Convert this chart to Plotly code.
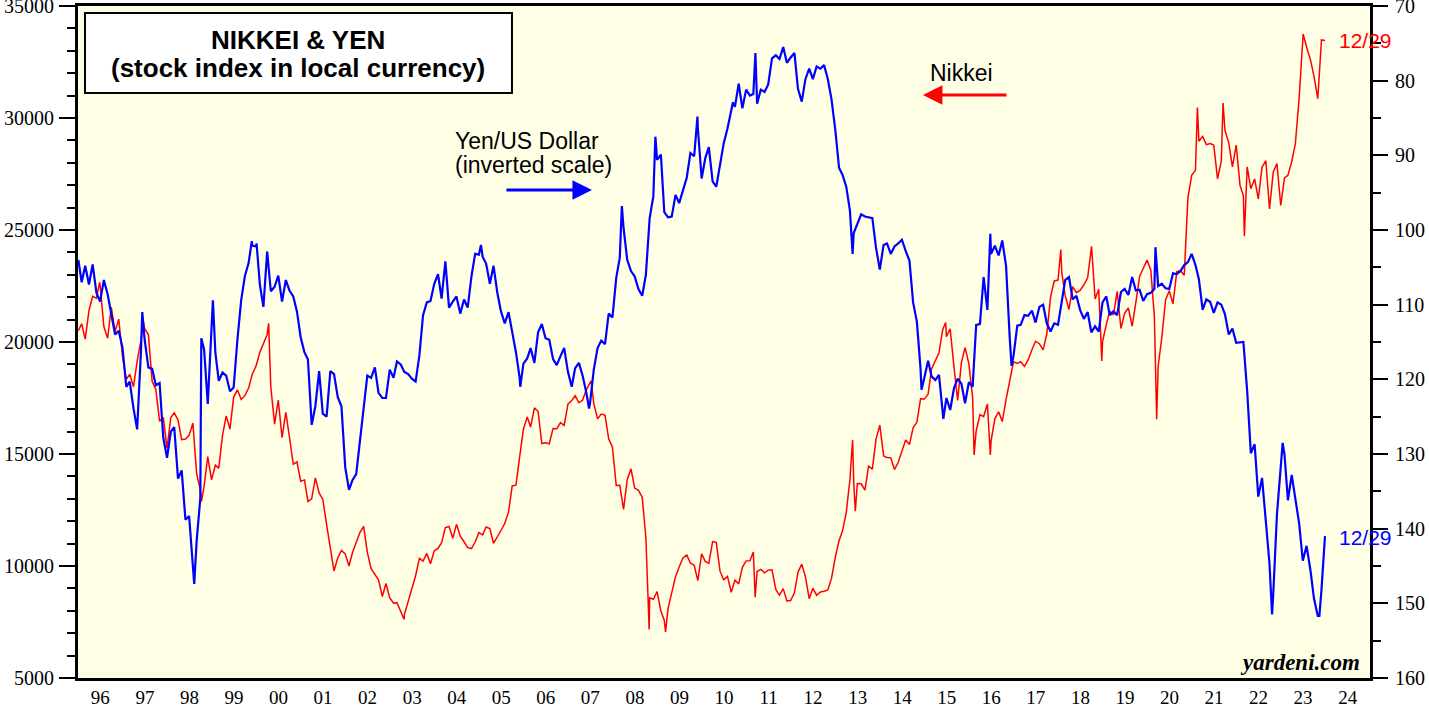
import pandas as pd
import plotly.graph_objects as go

# ---------------- DATA ----------------
years = list(range(1996, 2024))

# Nikkei 225, month-end levels (Jan..Dec for each year 1996-2023)
nikkei_month_end = [
    20813, 20125, 21407, 22041, 21956, 22531, 20693, 20167, 21556, 20467, 21020, 19361,  # 1996
    18330, 18557, 18003, 19151, 20069, 20605, 20331, 18229, 17888, 16459, 16637, 15259,  # 1997
    16628, 16832, 16527, 15641, 15671, 15830, 16379, 14108, 13406, 13565, 14884, 13842,  # 1998
    14500, 14368, 15837, 16702, 16112, 17530, 17862, 17437, 17605, 17942, 18558, 18934,  # 1999
    19540, 19960, 20337, 17974, 16332, 17411, 15727, 16861, 15747, 14540, 14649, 13786,  # 2000
    13843, 12884, 12999, 13934, 13262, 12969, 11861, 10714, 9775, 10367, 10697, 10543,   # 2001
    9997, 10588, 11025, 11493, 11764, 10622, 9878, 9619, 9383, 8640, 9216, 8579,         # 2002
    8340, 8363, 7973, 7831, 8425, 9083, 9563, 10344, 10219, 10560, 10101, 10677,         # 2003
    10784, 11042, 11715, 11762, 11236, 11859, 11326, 11082, 10824, 10771, 11069, 11489,  # 2004
    11388, 11741, 11669, 11009, 11277, 11584, 11900, 12414, 13574, 13607, 14872, 16111,  # 2005
    16650, 16205, 17060, 16906, 15467, 15505, 15457, 16141, 16128, 16399, 16274, 17226,  # 2006
    17383, 17604, 17288, 17400, 17876, 18138, 17249, 16569, 16786, 16737, 15681, 15308,  # 2007
    13592, 13603, 12526, 13850, 14339, 13481, 13377, 13073, 11260, 8577, 8512, 8860,     # 2008
    7994, 7568, 8110, 8828, 9523, 9958, 10357, 10493, 10133, 10035, 9346, 10546,         # 2009
    10198, 10126, 11090, 11057, 9769, 9383, 9537, 8824, 9369, 9202, 9937, 10229,         # 2010
    10238, 10624, 9755, 9850, 9694, 9816, 9833, 8955, 8700, 8988, 8435, 8455,            # 2011
    8803, 9723, 10084, 9521, 8543, 9007, 8695, 8840, 8870, 8928, 9446, 10395,            # 2012
    11139, 11559, 12398, 13861, 13775, 13677, 13668, 13389, 14456, 14328, 15662, 16291,  # 2013
    14915, 14841, 14828, 14304, 14632, 15162, 15621, 15425, 16174, 16414, 17460, 17451,  # 2014
    17674, 18798, 19207, 19520, 20563, 20236, 20585, 18890, 17388, 19083, 19747, 19034,  # 2015
    17518, 16027, 16759, 16666, 17235, 15576, 16569, 16887, 16450, 17425, 18308, 19114,  # 2016
    19041, 19119, 18909, 19197, 19651, 20033, 19925, 19646, 20356, 22012, 22725, 22765,  # 2017
    23098, 22068, 21454, 22468, 22202, 22305, 22554, 22865, 24120, 21920, 22351, 20015,  # 2018
    20773, 21385, 21206, 22259, 20601, 21276, 21522, 20704, 21756, 22927, 23294, 23657,  # 2019
    23205, 21143, 18917, 20194, 21878, 22288, 21710, 23140, 23185, 22977, 26434, 27444,  # 2020
    27663, 28966, 29179, 28813, 28860, 28792, 27284, 28090, 29453, 28893, 27822, 28792,  # 2021
    27002, 26527, 27821, 26848, 27280, 26393, 27802, 28092, 25937, 27587, 27969, 26095,  # 2022
    27327, 27446, 28041, 28856, 30888, 33189, 33172, 32619, 31858, 30859, 33487, 33464,  # 2023
]

# Nikkei intra-month turning points visible on the chart
nikkei_extra_dates = ["1996-01-04", "1996-06-26", "1997-06-20", "1998-10-09", "2000-04-12",
                      "2003-04-28", "2007-07-09", "2008-10-27", "2009-03-10", "2011-03-15",
                      "2013-05-22", "2013-06-13", "2015-06-24", "2016-02-12", "2016-06-24",
                      "2018-01-23", "2018-10-02", "2018-12-25", "2020-03-19", "2021-02-16",
                      "2021-09-14", "2022-03-08", "2023-07-03", "2023-12-29"]
nikkei_extra_values = [20500, 22666, 20910, 12880, 20833,
                       7608, 18262, 7163, 7055, 8605,
                       15627, 12445, 20868, 14953, 14952,
                       24124, 24270, 19155, 16553, 30468,
                       30670, 24718, 33753, 33464]

# Yen per US dollar, month-end levels (Jan..Dec for each year 1996-2023)
yen_month_end = [
    107.0, 104.8, 107.3, 104.6, 108.4, 109.6, 106.7, 108.6, 111.4, 114.0, 113.5, 115.8,  # 1996
    121.0, 120.3, 123.9, 126.7, 116.3, 114.6, 118.4, 118.6, 120.8, 120.5, 127.8, 130.5,  # 1997
    127.0, 126.4, 133.3, 132.2, 138.8, 138.3, 144.7, 141.6, 135.9, 116.0, 123.3, 113.1,  # 1998
    116.4, 120.2, 119.1, 119.5, 121.6, 121.1, 114.7, 109.4, 106.2, 104.4, 102.1, 102.2,  # 1999
    107.3, 110.3, 102.9, 108.2, 107.6, 106.1, 109.6, 106.7, 108.1, 108.9, 110.9, 114.4,  # 2000
    116.4, 117.3, 126.1, 123.6, 118.9, 124.6, 125.0, 118.9, 119.3, 122.4, 123.6, 131.8,  # 2001
    134.7, 133.5, 132.7, 128.5, 124.0, 119.5, 119.8, 118.4, 121.8, 122.5, 122.5, 118.7,  # 2002
    119.8, 117.6, 118.0, 119.0, 119.3, 119.9, 120.3, 116.8, 111.4, 109.7, 109.5, 107.2,  # 2003
    105.9, 109.2, 104.2, 110.4, 109.6, 108.9, 111.2, 109.3, 110.4, 106.2, 103.2, 103.3,  # 2004
    103.6, 104.5, 107.2, 104.8, 108.4, 110.9, 112.5, 111.0, 113.5, 116.4, 119.8, 117.9,  # 2005
    117.2, 115.8, 117.8, 113.7, 112.6, 114.5, 114.7, 117.3, 118.1, 116.9, 115.8, 119.0,  # 2006
    121.0, 118.5, 117.8, 119.5, 121.8, 123.2, 118.7, 115.8, 114.8, 115.3, 111.2, 111.7,  # 2007
    106.4, 103.7, 99.7, 104.0, 105.5, 106.2, 107.9, 108.8, 106.0, 98.4, 95.5, 90.6,      # 2008
    89.9, 97.6, 98.3, 98.2, 95.3, 96.4, 94.7, 93.0, 89.7, 90.1, 86.3, 93.1,              # 2009
    90.3, 88.9, 93.5, 94.2, 91.3, 88.4, 86.4, 84.2, 83.5, 80.4, 83.7, 81.2,              # 2010
    82.0, 81.8, 83.1, 81.2, 81.5, 80.5, 77.0, 76.6, 77.1, 78.1, 77.6, 76.9,              # 2011
    76.3, 81.1, 82.8, 79.8, 78.4, 79.8, 78.1, 78.4, 77.9, 79.8, 82.5, 86.6,              # 2012
    91.7, 92.6, 94.2, 97.4, 100.4, 99.1, 97.9, 98.2, 98.3, 98.4, 102.4, 105.3,           # 2013
    102.0, 101.8, 103.2, 102.2, 101.8, 101.3, 102.8, 104.1, 109.7, 112.3, 118.6, 119.8,  # 2014
    117.5, 119.6, 120.1, 119.4, 124.1, 122.5, 124.1, 121.2, 119.9, 120.6, 123.2, 120.4,  # 2015
    121.0, 112.7, 112.6, 106.3, 110.7, 103.2, 102.1, 103.4, 101.4, 104.8, 114.4, 116.9,  # 2016
    112.8, 112.7, 111.4, 111.5, 110.8, 112.4, 110.3, 110.0, 112.5, 113.6, 112.5, 112.7,  # 2017
    109.2, 106.7, 106.3, 109.3, 108.8, 110.7, 111.9, 111.0, 113.7, 112.9, 113.6, 109.7,  # 2018
    108.9, 111.4, 110.9, 111.4, 108.3, 107.9, 108.7, 106.3, 108.1, 108.0, 109.5, 108.6,  # 2019
    108.4, 107.9, 107.5, 107.2, 107.8, 107.9, 105.8, 105.9, 105.5, 104.7, 104.3, 103.2,  # 2020
    104.7, 106.6, 110.7, 109.3, 109.6, 111.1, 109.7, 110.0, 111.3, 114.0, 113.2, 115.1,  # 2021
    115.1, 115.0, 121.6, 129.9, 128.7, 135.7, 133.2, 138.9, 144.7, 148.7, 138.1, 131.1,  # 2022
    130.1, 136.2, 132.8, 136.3, 139.3, 144.3, 142.3, 145.5, 149.4, 151.7, 148.2, 141.0,  # 2023
]

# Yen intra-month turning points visible on the chart
yen_extra_dates = ["1996-01-04", "1997-06-11", "1998-08-11", "1998-10-08", "1999-01-11",
                   "1999-11-26", "2000-01-04", "2002-01-31", "2005-01-17", "2005-12-05",
                   "2007-06-22", "2008-03-17", "2008-12-17", "2009-11-27", "2010-09-14",
                   "2011-03-17", "2011-10-31", "2013-05-22", "2014-12-08", "2015-06-05",
                   "2016-06-24", "2016-12-15", "2020-03-09", "2022-10-21", "2023-01-16",
                   "2023-11-13", "2023-12-29"]
yen_extra_values = [104.0, 111.0, 147.4, 114.5, 109.4,
                    101.5, 101.8, 134.8, 102.0, 121.0,
                    123.9, 96.8, 87.5, 84.8, 82.9,
                    76.3, 75.5, 103.2, 121.4, 125.3,
                    100.5, 118.2, 102.3, 151.5, 128.5,
                    151.7, 141.0]

axis_left_ticks = [5000, 10000, 15000, 20000, 25000, 30000, 35000]
axis_left_labels = ["5000", "10000", "15000", "20000", "25000", "30000", "35000"]
axis_right_ticks = [70, 80, 90, 100, 110, 120, 130, 140, 150, 160]
axis_right_labels = [str(v) for v in axis_right_ticks]

# ---------------- BUILD SERIES ----------------
month_dates = [pd.Timestamp(y, m, 1) + pd.offsets.MonthEnd(0) for y in years for m in range(1, 13)]


def build(values, extra_dates, extra_values):
    df = pd.DataFrame({"d": month_dates, "v": values})
    ex = pd.DataFrame({"d": pd.to_datetime(extra_dates), "v": extra_values})
    df = pd.concat([df, ex]).drop_duplicates("d", keep="last").sort_values("d")
    df = df[df["d"] <= pd.Timestamp("2023-12-29")]
    return df


nk = build(nikkei_month_end, nikkei_extra_dates, nikkei_extra_values)
yn = build(yen_month_end, yen_extra_dates, yen_extra_values)

fig = go.Figure()
fig.add_trace(go.Scatter(x=nk["d"], y=nk["v"], mode="lines", name="Nikkei",
                         line=dict(color="#FF0000", width=1.5), yaxis="y"))
fig.add_trace(go.Scatter(x=yn["d"], y=yn["v"], mode="lines", name="Yen",
                         line=dict(color="#0000FF", width=2.2), yaxis="y2"))

serif = "Liberation Serif, Times New Roman, serif"
sans = "Liberation Sans, Arial, sans-serif"

fig.update_layout(
    width=1429, height=708,
    margin=dict(l=78, r=59, t=6, b=30, autoexpand=False),
    paper_bgcolor="white",
    plot_bgcolor="#FFFFE6",
    showlegend=False,
    font=dict(family=serif, size=20, color="black"),
    xaxis=dict(
        type="date",
        range=["1996-01-01", "2025-01-01"],
        dtick="M12", tick0="1996-01-01",
        tickformat="%y", ticklabelmode="period",
        ticks="", showgrid=False, zeroline=False, automargin=False,
        showline=True, linecolor="black", linewidth=3, mirror=True,
        ticklabelstandoff=0,
        tickfont=dict(family=serif, size=19, color="black"),
        minor=dict(dtick="M12", tick0="1996-01-01", ticks="outside",
                   ticklen=19, tickwidth=3, tickcolor="black", showgrid=False),
    ),
    yaxis=dict(
        range=[4999.5, 35000.5], tickvals=axis_left_ticks, ticktext=axis_left_labels,
        ticks="outside", ticklen=16, tickwidth=2, tickcolor="black",
        showgrid=False, zeroline=False, automargin=False,
        showline=True, linecolor="black", linewidth=3, mirror=True,
        ticklabelstandoff=1, ticklabeloverflow="allow",
        tickfont=dict(family=serif, size=20, color="black"),
        minor=dict(dtick=1000, tick0=5000, ticks="outside", ticklen=8,
                   tickwidth=2, tickcolor="black", showgrid=False),
    ),
    yaxis2=dict(
        overlaying="y", side="right",
        range=[160.002, 69.998], tickvals=axis_right_ticks, ticktext=axis_right_labels,
        ticks="outside", ticklen=15, tickwidth=2, tickcolor="black",
        showgrid=False, zeroline=False, automargin=False,
        showline=True, linecolor="black", linewidth=3,
        ticklabelstandoff=3, ticklabeloverflow="allow",
        tickfont=dict(family=serif, size=20, color="black"),
        minor=dict(dtick=5, tick0=70, ticks="outside", ticklen=8,
                   tickwidth=2, tickcolor="black", showgrid=False),
    ),
)

# title box
fig.add_shape(type="rect", xref="paper", yref="paper",
              x0=0.0054, x1=0.3359, y0=0.8705, y1=0.9896,
              fillcolor="white", line=dict(color="black", width=2), layer="above")

ann = []
ann.append(dict(text="<b>NIKKEI &amp; YEN</b>", x=0.1703, y=0.9494, xanchor="center", yanchor="middle",
                font=dict(family=sans, size=26, color="black")))
ann.append(dict(text="<b>(stock index in local currency)</b>", x=0.1703, y=0.9077,
                xanchor="center", yanchor="middle", font=dict(family=sans, size=26, color="black")))
ann.append(dict(text="Yen/US Dollar", x=0.2902, y=0.7991, xanchor="left", yanchor="middle",
                font=dict(family=sans, size=23, color="black")))
ann.append(dict(text="(inverted scale)", x=0.2902, y=0.7634, xanchor="left", yanchor="middle",
                font=dict(family=sans, size=23, color="black")))
ann.append(dict(text="Nikkei", x=0.6579, y=0.9003, xanchor="left", yanchor="middle",
                font=dict(family=sans, size=23, color="black")))
ann.append(dict(text="12/29", x=0.9745, y=0.9494, xanchor="left", yanchor="middle",
                font=dict(family=sans, size=21, color="#FF0000")))
ann.append(dict(text="12/29", x=0.9745, y=0.2098, xanchor="left", yanchor="middle",
                font=dict(family=sans, size=21, color="#0000FF")))
ann.append(dict(text="<b><i>yardeni.com</i></b>", x=0.9938, y=0.0238, xanchor="right", yanchor="middle",
                font=dict(family=serif, size=23, color="black")))
for a in ann:
    a.update(xref="paper", yref="paper", showarrow=False)

# arrows
ann.append(dict(text="", xref="paper", yref="paper", x=0.3978, y=0.7262,
                showarrow=True, ax=-87, ay=0, arrowhead=2, arrowsize=1.3, arrowwidth=3,
                arrowcolor="#0000FF"))
ann.append(dict(text="", xref="paper", yref="paper", x=0.6540, y=0.8676,
                showarrow=True, ax=85, ay=0, arrowhead=2, arrowsize=1.3, arrowwidth=3,
                arrowcolor="#FF0000"))
fig.update_layout(annotations=ann)

fig.write_html("out.html", config={"displayModeBar": False},
               post_script="document.body.style.margin='0px';document.body.style.padding='0px';")
